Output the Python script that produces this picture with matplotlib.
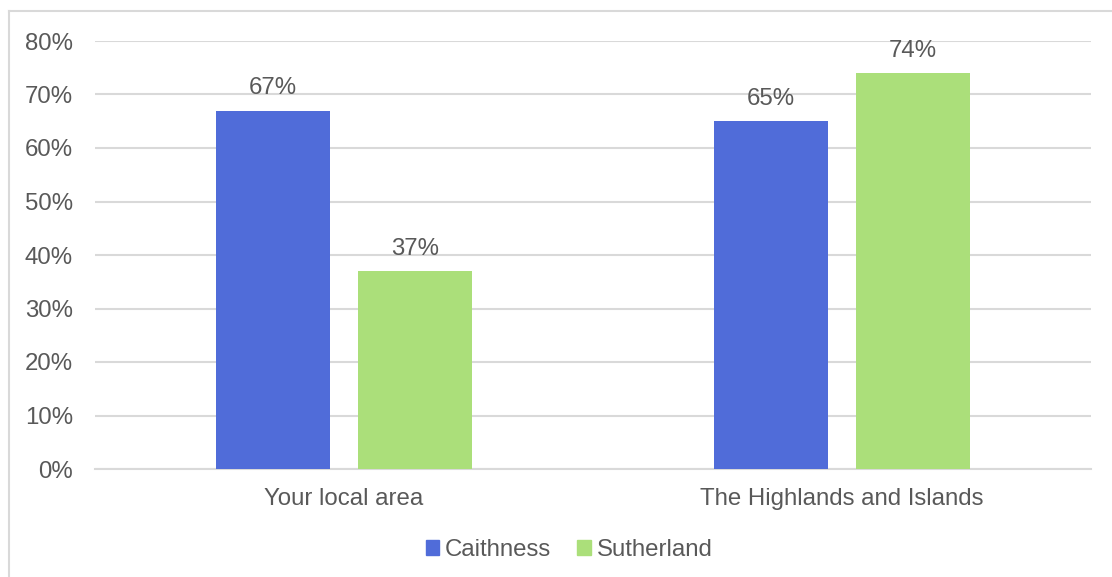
import matplotlib
matplotlib.use("Agg")
import matplotlib.pyplot as plt
from matplotlib.lines import Line2D
from matplotlib.ticker import PercentFormatter
import numpy as np

categories = ["Your local area", "The Highlands and Islands"]
series_names = ["Caithness", "Sutherland"]
caithness = [0.67, 0.65]
sutherland = [0.37, 0.74]
colors = ["#506CD9", "#ABDF7A"]

plt.rcParams["font.family"] = ["Liberation Sans", "DejaVu Sans"]
text_color = "#595959"
grid_color = "#D9D9D9"
fs = 17.3

fig = plt.figure(figsize=(11.12, 5.77), dpi=100)
ax = fig.add_axes([95 / 1112, 1 - 469 / 577, (1091 - 95) / 1112, (469 - 41) / 577])

x = np.arange(len(categories))
width = 0.229
offset = width / 2 + 0.028
values = [caithness, sutherland]
for i, (name, vals, col) in enumerate(zip(series_names, values, colors)):
    pos = x + (-offset if i == 0 else offset)
    bars = ax.bar(pos, vals, width=width, color=col, label=name, zorder=3)
    for b, v in zip(bars, vals):
        ax.annotate(f"{round(v * 100):d}%", (b.get_x() + b.get_width() / 2, v),
                    xytext=(0, 8), textcoords="offset points",
                    ha="center", va="bottom", fontsize=fs, color=text_color)

ax.set_xlim(-0.5, 1.5)
ax.set_ylim(0, 0.8)
ax.set_yticks(np.arange(0, 0.81, 0.1))
ax.yaxis.set_major_formatter(PercentFormatter(1.0, decimals=0))
ax.set_xticks(x)
ax.set_xticklabels(categories)
ax.grid(axis="y", color=grid_color, linewidth=1.5, zorder=0)
for s in ["top", "right", "left"]:
    ax.spines[s].set_visible(False)
ax.spines["bottom"].set_color(grid_color)
ax.spines["bottom"].set_linewidth(1.5)
ax.tick_params(axis="both", length=0, labelsize=fs, colors=text_color)
ax.tick_params(axis="y", pad=16)
ax.tick_params(axis="x", pad=14)

handles = [plt.Rectangle((0, 0), 1, 1, color=c) for c in colors]
fig.legend(handles, series_names, loc="center", bbox_to_anchor=(569 / 1112, 1 - 550 / 577),
           ncol=2, frameon=False, fontsize=fs, labelcolor=text_color,
           handlelength=0.55, handleheight=0.55, handletextpad=0.25, columnspacing=1.1)

# outer chart frame
fig.add_artist(Line2D([9 / 1112, 9 / 1112], [0, 1 - 11 / 577], color="#D9D9D9",
                      linewidth=1.5, transform=fig.transFigure))
fig.add_artist(Line2D([9 / 1112, 1], [1 - 11 / 577, 1 - 11 / 577], color="#D9D9D9",
                      linewidth=1.5, transform=fig.transFigure))

fig.savefig("out.png", dpi=100)
